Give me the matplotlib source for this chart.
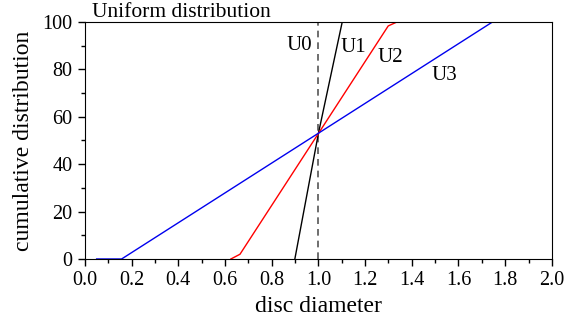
import matplotlib
matplotlib.use("Agg")
import matplotlib.pyplot as plt
from matplotlib.ticker import MultipleLocator

plt.rcParams['font.family'] = ['Liberation Serif', 'DejaVu Serif']

# cumulative distributions
u1_x = [0.899, 1.0, 1.102]
u1_y = [0, 53, 100]
u2_x = [0.625, 0.664, 1.299, 1.337, 1.38]
u2_y = [0, 2, 98.3, 100, 100]
u3_x = [0.05, 0.157, 1.746, 1.955]
u3_y = [0, 0, 100, 100]
u0_x = [1.0, 1.0]
u0_y = [0, 100]

labels = ['U0', 'U1', 'U2', 'U3']
label_x = [0.92, 1.15, 1.31, 1.54]
label_y = [90, 89, 85, 77.5]

fig = plt.figure(figsize=(5.84, 3.27), dpi=100)
ax = fig.add_axes([0.1455, 0.208, 0.7995, 0.725])

ax.plot(u0_x, u0_y, color='#555555', ls=(0, (4, 3)), lw=1.2)
ax.plot(u1_x, u1_y, color='black', lw=1)
ax.plot(u2_x, u2_y, color='#ff0000', lw=1)
ax.plot(u3_x, u3_y, color='#0000ee', lw=1)

for t, x, y in zip(labels, label_x, label_y):
    ax.text(x, y, t, fontsize=15, ha='center', va='center')

ax.set_xlim(0, 2)
ax.set_ylim(0, 100)
ax.xaxis.set_major_locator(MultipleLocator(0.2))
ax.xaxis.set_minor_locator(MultipleLocator(0.1))
ax.yaxis.set_major_locator(MultipleLocator(20))
ax.yaxis.set_minor_locator(MultipleLocator(10))
ax.xaxis.set_major_formatter(plt.FuncFormatter(lambda v, p: '%.1f' % v))
ax.tick_params(which='major', direction='out', length=5, width=1, labelsize=14.5, pad=4)
ax.tick_params(which='minor', direction='out', length=3, width=1)
ax.tick_params(top=False, right=False)

ax.set_xlabel('disc diameter', fontsize=17, labelpad=4)
ax.set_ylabel('cumulative distribution', fontsize=17, labelpad=6)
ax.set_title('Uniform distribution', fontsize=15.5, loc='left', pad=2, x=0.015)

fig.savefig('out.png', dpi=100)
